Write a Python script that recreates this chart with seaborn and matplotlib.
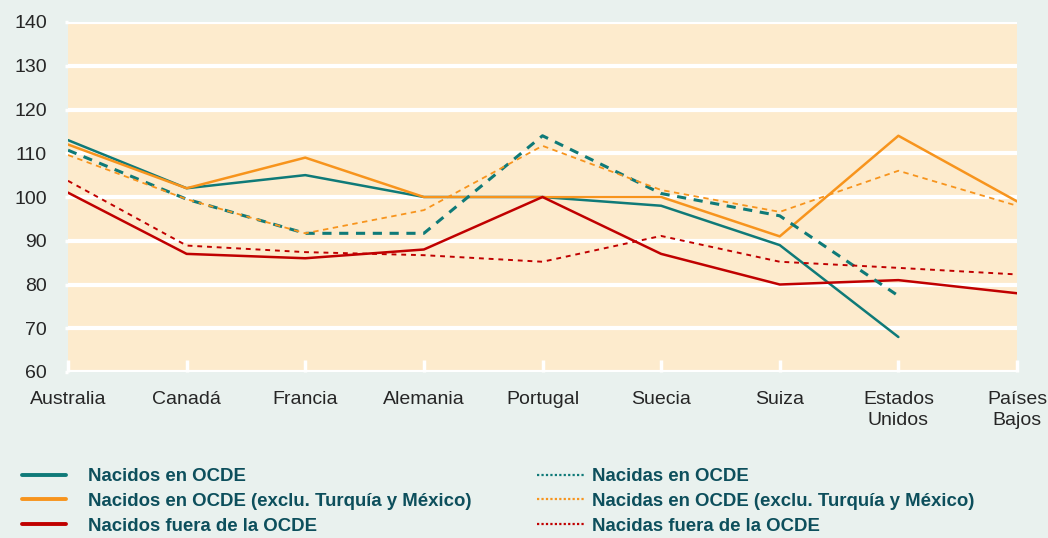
import pandas as pd
import numpy as np
import matplotlib
matplotlib.use("Agg")
import matplotlib.pyplot as plt
import seaborn as sns

sns.set_theme(style="white")
plt.rcParams["font.family"] = ["Liberation Sans", "DejaVu Sans"]

# Data
countries = ["Australia", "Canadá", "Francia", "Alemania", "Portugal",
             "Suecia", "Suiza", "Estados\nUnidos", "Países\nBajos"]

nacidos_ocde = [113, 102, 105, 100, 100, 98, 89, 68, np.nan]
nacidos_ocde_excl = [112, 102, 109, 100, 100, 100, 91, 114, 99]
nacidos_fuera = [101, 87, 86, 88, 100, 87, 80, 81, 78]
nacidas_ocde = [110.7, 99.5, 91.7, 91.7, 114, 100.8, 95.7, 77.4, np.nan]
nacidas_ocde_excl = [109.6, 99.5, 91.7, 97, 111.7, 101.6, 96.6, 106, 98]
nacidas_fuera = [103.7, 88.9, 87.4, 86.7, 85.2, 91.1, 85.2, 83.8, 82.3]

teal = "#0f7a78"
orange = "#f7941d"
red = "#c00000"

series = [
    ("Nacidos en OCDE", nacidos_ocde, teal, "-", 1.8),
    ("Nacidos en OCDE (exclu. Turquía y México)", nacidos_ocde_excl, orange, "-", 1.8),
    ("Nacidos fuera de la OCDE", nacidos_fuera, red, "-", 1.8),
    ("Nacidas en OCDE", nacidas_ocde, teal, (0, (3, 2.5)), 2.2),
    ("Nacidas en OCDE (exclu. Turquía y México)", nacidas_ocde_excl, orange, (0, (3, 2.5)), 1.3),
    ("Nacidas fuera de la OCDE", nacidas_fuera, red, (0, (2.5, 2.5)), 1.4),
]

fig = plt.figure(figsize=(10.48, 5.38), dpi=100)
fig.patch.set_facecolor("#e9f1ee")
ax = fig.add_axes([68 / 1048, 1 - 372 / 538, (1017 - 68) / 1048, (372 - 22) / 538])
ax.set_facecolor("#fdebcd")

x = np.arange(len(countries))
handles = []
for label, vals, color, ls, lw in series:
    df = pd.DataFrame({"x": x, "y": vals}).dropna()
    sns.lineplot(data=df, x="x", y="y", ax=ax, color=color, linestyle=ls,
                 linewidth=lw, legend=False)
    leg_ls = "-" if ls == "-" else (0, (1, 1))
    handles.append(plt.Line2D([], [], color=color, linestyle=leg_ls,
                              linewidth=2.8 if ls == "-" else 1.6, label=label))

ax.set_xlim(0, 8)
ax.set_ylim(60, 140)
ax.set_yticks(range(60, 141, 10))
ax.set_xticks(x)
ax.set_xticklabels(countries, fontsize=14, linespacing=1.35)
ax.tick_params(axis="y", labelsize=14, length=2.2, width=2.5, color="white",
               left=True, pad=13)
ax.tick_params(axis="x", direction="in", length=9, width=2.5, color="white",
               bottom=True, pad=13.5)
ax.yaxis.grid(True, color="white", linewidth=3)
ax.set_axisbelow(True)
for s in ax.spines.values():
    s.set_visible(False)
ax.set_xlabel("")
ax.set_ylabel("")

# two legend columns: left = Nacidos, right = Nacidas
leg_kw = dict(loc="upper left", frameon=False, prop={"weight": "bold", "size": 13.4},
              borderpad=0, borderaxespad=0, labelspacing=0.42)
leg1 = fig.legend(handles=handles[:3], bbox_to_anchor=(22 / 1048, 1 - 468 / 538),
                  handlelength=2.35, handletextpad=1.2, **leg_kw)
leg2 = fig.legend(handles=handles[3:], bbox_to_anchor=(537 / 1048, 1 - 468 / 538),
                  handlelength=2.5, handletextpad=0.45, **leg_kw)
for leg in (leg1, leg2):
    for t in leg.get_texts():
        t.set_color("#0d4f5c")

plt.savefig("out.png", dpi=100, facecolor=fig.get_facecolor())
plt.close()
